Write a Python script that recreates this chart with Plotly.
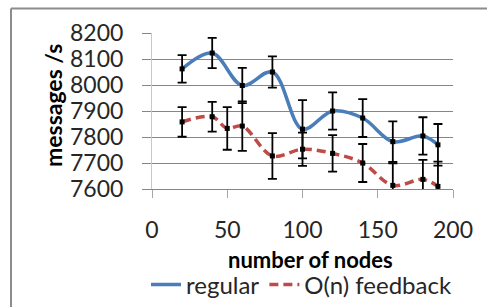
import plotly.graph_objects as go

# ---- data ----
reg_x = [20, 40, 60, 80, 100, 120, 140, 160, 180, 190]
reg_y = [8062, 8123, 7998, 8050, 7830, 7900, 7873, 7782, 7804, 7770]
reg_err = [53, 58, 68, 60, 112, 72, 73, 78, 72, 80]

fb_x = [20, 40, 50, 60, 80, 100, 120, 140, 160, 180, 190]
fb_y = [7858, 7878, 7833, 7842, 7727, 7753, 7737, 7700, 7614, 7637, 7610]
fb_err = [57, 57, 82, 95, 88, 64, 70, 73, 85, 75, 95]

y_ticks = [7600, 7700, 7800, 7900, 8000, 8100, 8200]
x_ticks = [0, 50, 100, 150, 200]

# ---- geometry helpers (pixel -> paper) ----
W, H = 487, 307
L, R, T, B = 152, 34, 33, 118
PW, PH = W - L - R, H - T - B


def px(p):
    return (p - L) / PW


def py(p):
    return (H - B - p) / PH


BLUE = "#4A7EBB"
RED = "#BE4B48"
FONT = "Lato"

fig = go.Figure()

fig.add_trace(go.Scatter(x=reg_x, y=reg_y, mode="lines", name="regular",
                         line=dict(color=BLUE, width=3.5, shape="spline", smoothing=1.0)))
fig.add_trace(go.Scatter(x=fb_x, y=fb_y, mode="lines", name="O(n) feedback",
                         line=dict(color=RED, width=3.5, shape="spline", smoothing=1.0, dash="9px,5px")))

for xs, ys, es in [(reg_x, reg_y, reg_err), (fb_x, fb_y, fb_err)]:
    fig.add_trace(go.Scatter(x=xs, y=ys, mode="markers", showlegend=False,
                             marker=dict(symbol="square", size=5, color="black"),
                             error_y=dict(type="data", array=es, visible=True,
                                          color="black", thickness=1.8, width=4.5),
                             cliponaxis=True))

fig.update_layout(
    width=W, height=H,
    margin=dict(l=L, r=R, t=T, b=B, autoexpand=False),
    paper_bgcolor="white", plot_bgcolor="white",
    font=dict(family=FONT, size=22, color="#262626"),
    showlegend=True,
    legend=dict(orientation="h", x=px(146), y=py(285), xanchor="left", yanchor="middle",
                font=dict(family=FONT, size=24, color="#262626"),
                bgcolor="rgba(0,0,0,0)", itemwidth=30, tracegroupgap=0),
    xaxis=dict(range=[0, 200], tickvals=x_ticks, ticks="outside", ticklen=8,
               tickcolor="#A6A6A6", showline=True, linecolor="#868686", linewidth=1,
               showgrid=False, zeroline=False, ticklabelstandoff=12, automargin=False,
               tickfont=dict(family=FONT, size=23, color="#262626")),
    yaxis=dict(range=[7600, 8200], tickvals=y_ticks, ticks="outside", ticklen=9,
               tickcolor="#868686", showline=True, linecolor="#C8C8C8", linewidth=1,
               showgrid=True, gridcolor="#868686", gridwidth=1, zeroline=False,
               ticklabelstandoff=14, automargin=False,
               tickfont=dict(family=FONT, size=23, color="#262626")),
    annotations=[
        dict(text="<b>messages /s</b>", x=px(53), y=py(106), xref="paper", yref="paper",
             textangle=-90, showarrow=False, xanchor="center", yanchor="middle",
             font=dict(family=FONT, size=23, color="black")),
        dict(text="<b>number of nodes</b>", x=px(310), y=py(259), xref="paper", yref="paper",
             showarrow=False, xanchor="center", yanchor="middle",
             font=dict(family=FONT, size=22, color="black")),
    ],
    shapes=[
        dict(type="line", xref="paper", yref="paper", x0=px(11), x1=px(490), y0=py(8.5), y1=py(8.5),
             line=dict(color="#8C8C8C", width=2)),
        dict(type="line", xref="paper", yref="paper", x0=px(11), x1=px(11), y0=py(8.5), y1=py(310),
             line=dict(color="#8C8C8C", width=2)),
    ],
)

fig.write_html("out.html", config={"displayModeBar": False},
               post_script="document.body.style.margin='0';")
